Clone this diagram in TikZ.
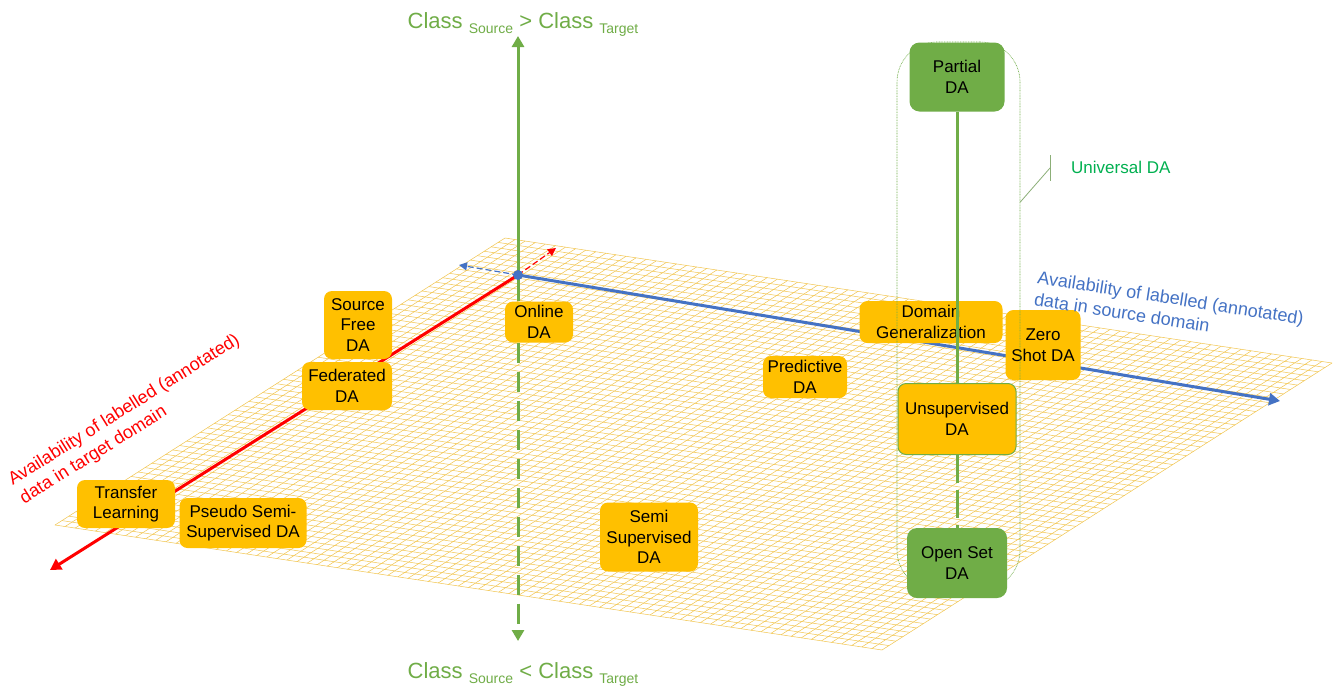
\documentclass[tikz,border=0pt]{standalone}
\usepackage{fontspec}
\setmainfont{Liberation Sans}
\usetikzlibrary{arrows.meta,calc}

\definecolor{dagreen}{HTML}{70AD47}
\definecolor{dayellow}{HTML}{FFC000}
\definecolor{dablue}{HTML}{4472C4}
\definecolor{dared}{HTML}{FF0000}
\definecolor{gridcol}{HTML}{F2C54E}
\definecolor{univgreen}{HTML}{00B050}
\definecolor{calloutcol}{HTML}{8CAF78}

\newcommand{\daboxfont}{\fontsize{17}{20.5}\selectfont}
\newcommand{\dasub}[1]{\raisebox{-5pt}{\fontsize{14}{16}\selectfont #1}}

\begin{document}
\begin{tikzpicture}[x=1pt,y=-1pt,
  ybox/.style={fill=dayellow, rounded corners=8pt, align=center, inner sep=2pt, font=\daboxfont, text=black},
  gbox/.style={fill=dagreen, rounded corners=10pt, align=center, inner sep=2pt, font=\daboxfont, text=black},
  gridline/.style={draw=gridcol, line width=0.5pt},
  mainaxis/.style={line width=3pt, -{Triangle[length=11pt,width=12pt]}},
  backaxis/.style={line width=1.2pt, dash pattern=on 6pt off 3pt, -{Triangle[length=8pt,width=8pt]}},
  axislabel/.style={font=\fontsize{18}{22}\selectfont, align=left, inner sep=0pt, anchor=west},
  classlabel/.style={text=dagreen, font=\fontsize{22}{26}\selectfont, anchor=base, inner sep=0pt}]

\useasboundingbox (0,0) rectangle (1337,689);
\fill[white] (0,0) rectangle (1337,689);

% the mesh plane
\foreach \i in {0,...,82}{
  \draw[gridline] ({505+\i/82*827},{238+\i/82*125}) -- ++(-450,287);
}
\foreach \j in {0,...,65}{
  \draw[gridline] ({505-\j/65*450},{238+\j/65*287}) -- ++(827,125);
}

% axes
\coordinate (O) at (518,275);
\coordinate (redend) at (50,570);
\coordinate (redback) at (556,248);
\coordinate (blueend) at (1280,401);
\coordinate (blueback) at (459,265);
\coordinate (gtop) at (518,36);
\coordinate (gbot) at (518,641);

\draw[backaxis, dared] (O) -- (redback);
\draw[backaxis, dablue] (O) -- (blueback);
\draw[mainaxis, dared] (O) -- (redend);
\draw[mainaxis, dablue] (O) -- (blueend);
\draw[mainaxis, dagreen] (O) -- (gtop);

% method boxes on the plane
\node[ybox, minimum width=68pt, minimum height=68pt] (sfree) at (358,325) {Source\\Free\\DA};
\node[ybox, minimum width=90pt, minimum height=48pt] (fed) at (347,386) {Federated\\DA};
\node[ybox, minimum width=98pt, minimum height=48pt] (tl) at (126,504) {Transfer\\Learning};
\node[ybox, minimum width=127pt, minimum height=50pt] (pssda) at (243,523) {Pseudo Semi-\\Supervised DA};
\node[ybox, minimum width=68pt, minimum height=41pt] (online) at (539,322) {Online\\DA};
\node[ybox, minimum width=84pt, minimum height=42pt] (pred) at (805,377) {Predictive\\DA};
\node[ybox, minimum width=98pt, minimum height=69pt] (ssda) at (649,537) {Semi\\Supervised\\DA};
\node[ybox, minimum width=143pt, minimum height=42pt] (dg) at (931,322) {Domain\\Generalization};
\node[ybox, minimum width=75pt, minimum height=70pt] (zs) at (1043,345) {Zero\\Shot DA};

% vertical class axis below the origin
\draw[dagreen, line width=3pt] (O) -- (O |- online.north);
\draw[dagreen, line width=3pt, dash pattern=on 20pt off 9pt, -{Triangle[length=11pt,width=12pt]}] (O |- online.south) -- (gbot);

% universal DA enclosure
\node[draw=dagreen, line width=0.6pt, dash pattern=on 0.8pt off 0.8pt, rounded corners=40pt,
      minimum width=123pt, minimum height=548pt, inner sep=0pt] (univ) at (958.5,316) {};

\node[gbox, minimum width=95pt, minimum height=69pt] (partial) at (957,77) {Partial\\DA};
\node[gbox, minimum width=100pt, minimum height=70pt] (opens) at (957,563) {Open Set\\DA};
\node[ybox, draw=dagreen, line width=1pt, minimum width=118pt, minimum height=71pt] (unsup) at (957,419) {Unsupervised\\DA};

\draw[dagreen, line width=3pt] (partial) -- (unsup);
\draw[dagreen, line width=3pt, dash pattern=on 28pt off 7pt] (unsup) -- (opens);

% callout for the enclosure
\coordinate (ctick) at (1050,168);
\coordinate (tickA) at (1050,155);
\coordinate (tickB) at (1050,181);
\draw[calloutcol, line width=0.8pt] ([yshift=114pt]univ.east) -- (ctick);
\draw[calloutcol, line width=1pt] (tickA) -- (tickB);
\node[anchor=west, text=univgreen, font=\fontsize{17}{20}\selectfont, inner sep=0pt] (univlbl) at (1071,167) {Universal DA};

% origin marker
\node[circle, fill=dablue, inner sep=0pt, minimum size=10pt] (odot) at (O) {};

% axis labels
\node[classlabel] (ctop) at (523,28) {Class \dasub{Source} > Class \dasub{Target}};
\node[classlabel] (cbot) at (523,678) {Class \dasub{Source} < Class \dasub{Target}};
\node[axislabel, text=dared, rotate=32] (redlbl) at (16,491) {Availability of labelled (annotated)\\data in target domain};
\node[axislabel, text=dablue, rotate=-8.8] (bluelbl) at (1036,288) {Availability of labelled (annotated)\\data in source domain};

\end{tikzpicture}
\end{document}
